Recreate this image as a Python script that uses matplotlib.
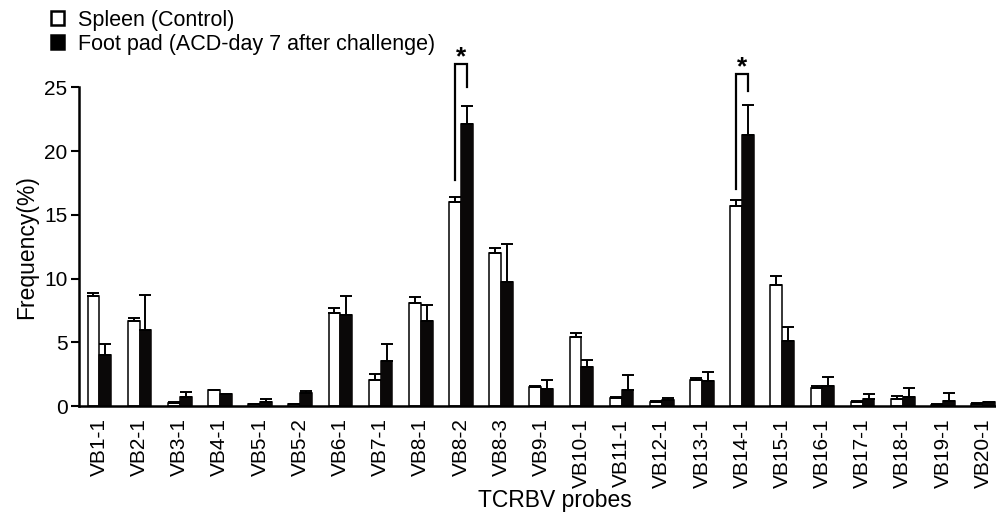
import matplotlib
matplotlib.use("Agg")
import matplotlib.pyplot as plt
from matplotlib.patches import Patch
import numpy as np

categories = ["VB1-1", "VB2-1", "VB3-1", "VB4-1", "VB5-1", "VB5-2", "VB6-1", "VB7-1",
              "VB8-1", "VB8-2", "VB8-3", "VB9-1", "VB10-1", "VB11-1", "VB12-1", "VB13-1",
              "VB14-1", "VB15-1", "VB16-1", "VB17-1", "VB18-1", "VB19-1", "VB20-1"]
spleen = [8.63, 6.66, 0.26, 1.24, 0.12, 0.15, 7.32, 2.03, 8.09, 15.99, 12.04, 1.5,
          5.45, 0.63, 0.32, 2.07, 15.69, 9.52, 1.39, 0.31, 0.55, 0.1, 0.17]
spleen_err = [0.27, 0.27, 0.05, 0.05, 0.03, 0.03, 0.37, 0.47, 0.44, 0.42, 0.39, 0.1,
              0.26, 0.1, 0.05, 0.16, 0.5, 0.65, 0.16, 0.05, 0.21, 0.03, 0.03]
footpad = [4.0, 6.0, 0.71, 0.92, 0.34, 1.0, 7.13, 3.53, 6.69, 22.11, 9.75, 1.37,
           3.03, 1.24, 0.45, 1.96, 21.25, 5.1, 1.57, 0.58, 0.71, 0.37, 0.3]
footpad_err = [0.87, 2.7, 0.4, 0.05, 0.2, 0.15, 1.5, 1.34, 1.26, 1.4, 2.94, 0.66,
               0.58, 1.18, 0.18, 0.74, 2.39, 1.1, 0.68, 0.39, 0.7, 0.65, 0.05]
yticks = [0, 5, 10, 15, 20, 25]
series_labels = ["Spleen (Control)", "Foot pad (ACD-day 7 after challenge)"]
# significance: (category index, left-leg bottom, top, right-leg bottom)
sig_idx = [9, 16]
sig_left_bottom = [17.7, 17.05]
sig_top = [26.86, 26.07]
sig_right_bottom = [25.0, 24.7]

plt.rcParams['font.family'] = ['Liberation Sans', 'DejaVu Sans']

fig = plt.figure(figsize=(9.96, 5.16), dpi=100)
ax = fig.add_axes([78.5 / 996, 110 / 516, (996 - 78.5) / 996, (406 - 87.3) / 516])

x = np.arange(len(categories))
w = 0.295
lw_bar = 1.1
ekw = dict(elinewidth=1.4, capthick=1.4, ecolor='black')
ax.bar(x - w / 2, spleen, w, color='white', edgecolor='black', linewidth=lw_bar,
       yerr=[np.zeros(len(x)), spleen_err], capsize=4.5, error_kw=ekw, zorder=2)
ax.bar(x + w / 2, footpad, w, color='#0a0808', edgecolor='#0a0808', linewidth=lw_bar,
       yerr=[np.zeros(len(x)), footpad_err], capsize=4.5, error_kw=ekw, zorder=2)

for i, lb, tp, rb in zip(sig_idx, sig_left_bottom, sig_top, sig_right_bottom):
    xl = i - w / 2
    xr = i + w / 2
    ax.plot([xl, xl, xr, xr], [lb, tp, tp, rb], color='black', lw=1.6,
            clip_on=False, solid_joinstyle='miter', zorder=3)
    ax.text(i, tp - 0.45, "*", ha='center', va='bottom', fontsize=19,
            fontweight='bold', clip_on=False)

ax.set_xlim(-0.52, 22.32)
ax.set_ylim(0, 25)
ax.set_yticks(yticks)
ax.set_xticks(x)
ax.set_xticklabels(categories, rotation=90, fontsize=15)
ax.tick_params(axis='x', length=0, pad=9)
ax.tick_params(axis='y', length=6, width=1.5, labelsize=15, direction='out', pad=2)
for s in ['top', 'right']:
    ax.spines[s].set_visible(False)
for s in ['left', 'bottom']:
    ax.spines[s].set_linewidth(1.8)

ax.set_ylabel("Frequency(%)", fontsize=16.5, labelpad=4)
fig.text(555 / 996, 1 - 501 / 516, "TCRBV probes", ha='center', va='center', fontsize=16.5)

handles = [Patch(facecolor='white', edgecolor='black', linewidth=1.8),
           Patch(facecolor='black', edgecolor='black', linewidth=1.8)]
fig.legend(handles, series_labels, loc='upper left', bbox_to_anchor=(51 / 996, 1 - 10 / 516),
           frameon=False, fontsize=15.5, handlelength=0.62, handleheight=0.62,
           handletextpad=0.65, labelspacing=0.12, borderaxespad=0, borderpad=0)

fig.savefig("out.png", dpi=100)
